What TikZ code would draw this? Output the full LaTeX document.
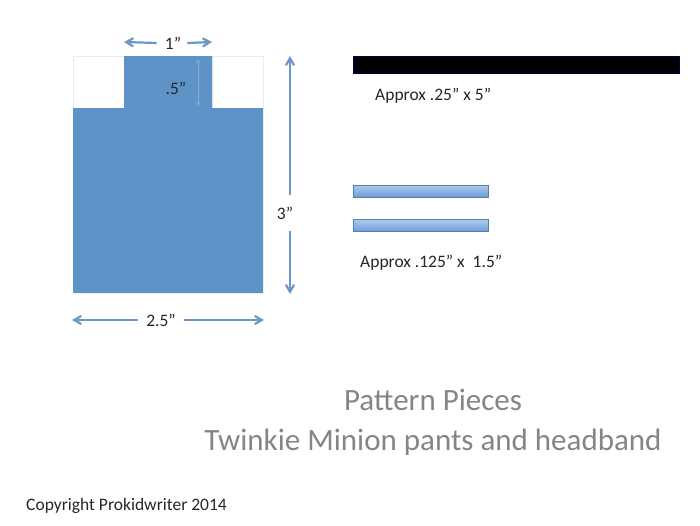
\documentclass[tikz,border=0pt]{standalone}
\usepackage{fontspec}
\setmainfont{Carlito}
\usepackage{tikz}
\usetikzlibrary{arrows}

\definecolor{pieceblue}{HTML}{5E93C8}
\definecolor{arrowblue}{HTML}{6B96C6}
\definecolor{barblue}{HTML}{6D9EDA}
\definecolor{titlegray}{HTML}{858585}

\begin{document}
\begin{tikzpicture}[x=1pt,y=-1pt]
\tikzset{piece/.style = {fill=pieceblue,draw=none}}
\tikzset{notch/.style = {fill=white,draw=black!8}}
\tikzset{strip/.style = {top color=barblue!55,bottom color=barblue,draw=barblue!80!black,line width=0.6pt}}
\tikzset{dim/.style = {->,> = angle 60,draw=arrowblue,line width=2.2pt}}
\tikzset{thindim/.style = {<->,> = angle 60,draw=arrowblue!80,line width=0.7pt}}
\tikzset{label/.style = {inner sep=0pt,font=\fontsize{17.5}{20}\selectfont,text=black!85}}
\useasboundingbox (0,0) rectangle (700,525);
% pants piece
\node[notch,minimum width=51pt,minimum height=52pt,inner sep=0pt] (notchL) at (98.5,82) {};
\node[notch,minimum width=51pt,minimum height=52pt,inner sep=0pt] (notchR) at (237.5,82) {};
\fill[piece] (73,108) -- (124,108) -- (124,56) -- (212,56) -- (212,108) -- (263,108) -- (263,293) -- (73,293) -- cycle;
% strips
\node[fill=black,draw=black!70!blue,minimum width=326pt,minimum height=17pt,inner sep=0pt] (band) at (516,64.5) {};
\node[strip,minimum width=135pt,minimum height=12pt,inner sep=0pt] (stripA) at (420.5,191) {};
\node[strip,minimum width=135pt,minimum height=12pt,inner sep=0pt] (stripB) at (420.5,225.5) {};
% labels
\node[label] (w1) at (173,43) {1”};
\node[label] (h05) at (176,88) {.5”};
\node[label] (h3) at (285,213) {3”};
\node[label] (w25) at (161,320) {2.5”};
\node[label,anchor=west] (bandtxt) at (375,96) {Approx .25” x 5”};
\node[label,anchor=west] (striptxt) at (360,263) {Approx .125” x \ 1.5”};
\node[inner sep=0pt,text=titlegray,font=\fontsize{31}{36}\selectfont] (title) at (433,400) {Pattern Pieces};
\node[inner sep=0pt,text=titlegray,font=\fontsize{31}{36}\selectfont] (subtitle) at (433,442) {Twinkie Minion pants and headband};
\node[inner sep=0pt,font=\fontsize{17.5}{20}\selectfont,text=black!85,anchor=west] (copy) at (26,506) {Copyright Prokidwriter 2014};
% dimension arrows
\coordinate (w1L) at (124,42);
\coordinate (w1R) at (212,42);
\coordinate (h05T) at (198,59);
\coordinate (h05B) at (198,106);
\coordinate (h3T) at (290,56);
\coordinate (h3B) at (290,294);
\coordinate (w25L) at (72,320);
\coordinate (w25R) at (264,320);
\draw[dim] (w1.west) ++(-8,0) -- (w1L);
\draw[dim] (w1.east) ++(6,0) -- (w1R);
\draw[thindim] (h05T) -- (h05B);
\draw[dim] (h3.north) ++(5,-12) -- (h3T);
\draw[dim] (h3.south) ++(5,12) -- (h3B);
\draw[dim] (w25.west) ++(-8,0) -- (w25L);
\draw[dim] (w25.east) ++(8,0) -- (w25R);
\end{tikzpicture}
\end{document}
